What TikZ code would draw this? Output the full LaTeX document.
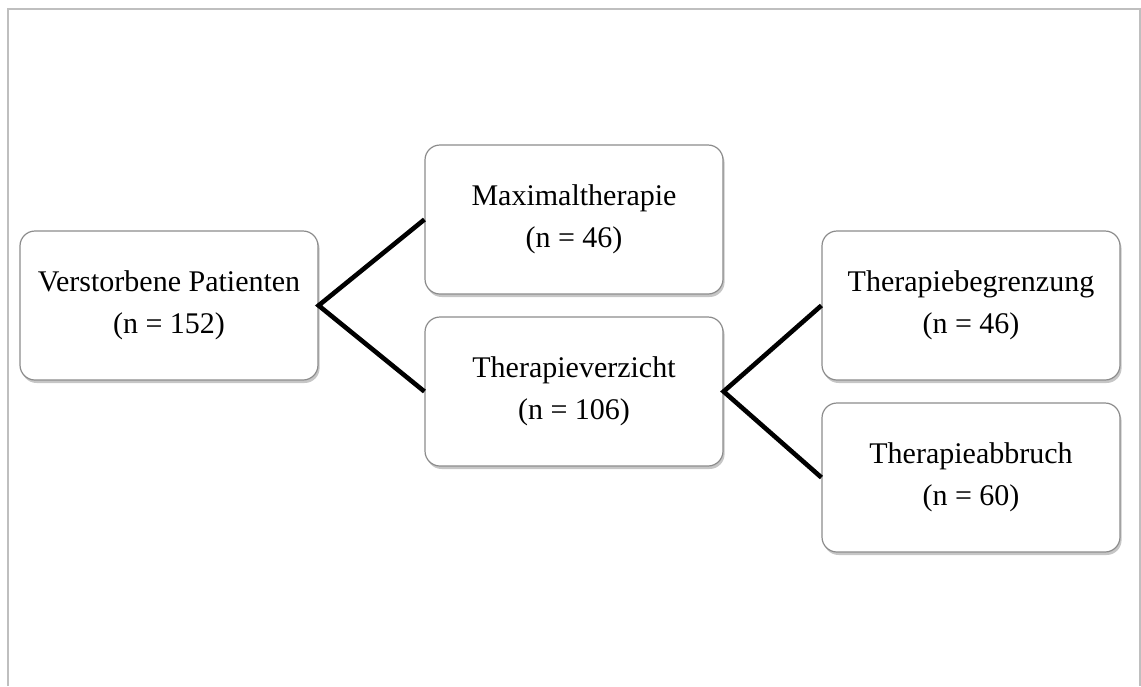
\documentclass[tikz,border=0pt]{standalone}
\usepackage{fontspec}
\setmainfont{Liberation Serif}
\usetikzlibrary{shadows}
\tikzstyle{group}=[rectangle, rounded corners=7.5pt, draw=gray!90, line width=0.6pt, fill=white,
  minimum width=149pt, minimum height=74.5pt, align=center, inner sep=0,
  font=\fontsize{15}{21}\selectfont,
  drop shadow={shadow xshift=0.8pt, shadow yshift=-1.5pt, opacity=0.45, fill=gray}]
\tikzstyle{branch}=[line width=2.3pt, black]
\begin{document}
\begin{tikzpicture}[x=0.5pt, y=-0.5pt]
\useasboundingbox (0,0) rectangle (1141,686);
% frame
\draw[gray!50, line width=1pt] (7.5,686)--(7.5,8.5)--(1139.5,8.5)--(1139.5,686);

% boxes
\node[group] (patients) at (169,305.5) {Verstorbene Patienten\\(n = 152)};
\node[group] (maximal) at (574,219.5) {Maximaltherapie\\(n = 46)};
\node[group] (verzicht) at (574,391.5) {Therapieverzicht\\(n = 106)};
\node[group] (begrenzung) at (971,305.5) {Therapiebegrenzung\\(n = 46)};
\node[group] (abbruch) at (971,477.5) {Therapieabbruch\\(n = 60)};

% branches
\draw[branch] (maximal.west)--(patients.east)--(verzicht.west);
\draw[branch] (begrenzung.west)--(verzicht.east)--(abbruch.west);
\end{tikzpicture}
\end{document}
